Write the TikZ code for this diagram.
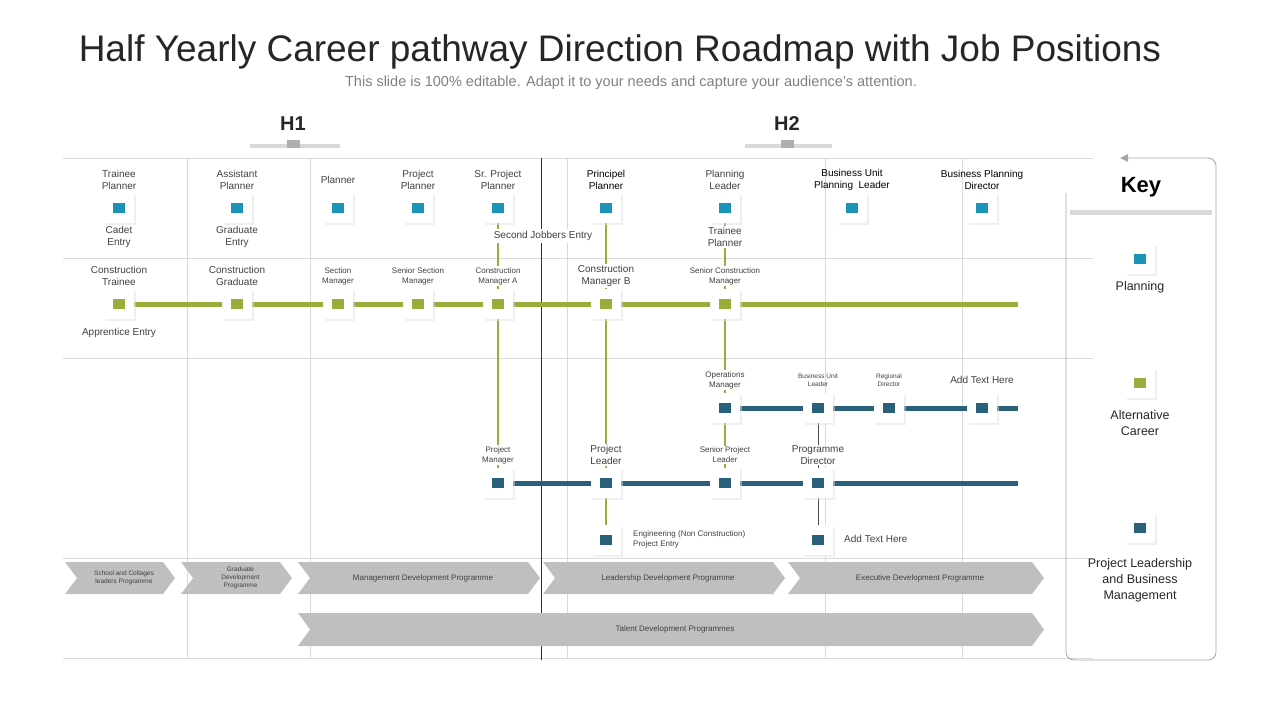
\documentclass[tikz,border=0pt]{standalone}
\usepackage{fontspec}
\setmainfont{Liberation Sans}
\usetikzlibrary{shadows,arrows.meta}
\definecolor{plan}{HTML}{1A93B8}
\definecolor{alt}{HTML}{9AAD3B}
\definecolor{lead}{HTML}{2A6079}
\definecolor{grid}{HTML}{D9D9D9}
\definecolor{chev}{HTML}{BFBFBF}
\definecolor{txt}{HTML}{404040}
\tikzset{
 box/.style={draw=none,fill=white,minimum width=30pt,minimum height=30pt,drop shadow={shadow xshift=1.5pt,shadow yshift=-1.5pt,fill=black!12}},
 lab/.style={align=center,text=txt,font=\fontsize{10}{12}\selectfont,inner sep=0pt},
 smlab/.style={align=center,text=txt,font=\fontsize{8}{10}\selectfont,inner sep=0pt},
 tinylab/.style={align=center,text=txt,font=\fontsize{6.5}{8}\selectfont,inner sep=0pt},
 gl/.style={draw=grid,line width=0.8pt},
}
\newcommand{\pbox}[4]{\node[box] (#1) at (#2,#3) {}; \fill[#4] ([xshift=-6pt,yshift=-5pt]#1.center) rectangle ([xshift=6pt,yshift=5pt]#1.center);}
\newcommand{\chevron}[5]{\fill[chev] (#1,#3) -- (#2-12,#3) -- (#2,{(#3+#4)/2}) -- (#2-12,#4) -- (#1,#4) -- (#1+12,{(#3+#4)/2}) -- cycle;
 \node[tinylab,text=txt] at ({(#1+#2)/2+4},{(#3+#4)/2}) {#5};}
\begin{document}
\begin{tikzpicture}[x=1pt,y=-1pt]
\useasboundingbox (0,0) rectangle (1280,720);
% title
\node[text=black!85,font=\fontsize{37}{40}\selectfont] (title) at (620,52) {Half Yearly Career pathway Direction Roadmap with Job Positions};
\node[text=black!50,font=\fontsize{14.5}{16}\selectfont] (sub) at (631,83) {This slide is 100\% editable. Adapt it to your needs and capture your audience's attention.};
\node[font=\bfseries\fontsize{20}{22}\selectfont,text=black!85] (h1) at (293,124) {H1};
\node[font=\bfseries\fontsize{20}{22}\selectfont,text=black!85] (h2) at (787,124) {H2};
\draw[grid,line width=4pt] (250,146) -- (340,146);
\fill[grid!80!black] (287,140) rectangle (300,148);
\draw[grid,line width=4pt] (745,146) -- (832,146);
\fill[grid!80!black] (781,140) rectangle (794,148);
% grid
\foreach \y in {158,258,358,558,658} \draw[gl] (63,\y) -- (1093,\y);
\foreach \x in {187,310,567,825,962} \draw[gl] (\x,158) -- (\x,658);
\draw[black!80,line width=0.8pt] (541,158) -- (541,660);
% key frame
\draw[draw=black!35,line width=0.8pt] (1066,193) -- (1066,652) to[out=-90,in=180] (1074,660) -- (1208,660) to[out=0,in=-90] (1216,652) -- (1216,166) to[out=90,in=0] (1208,158) -- (1124,158);
\fill[black!35] (1120,158) -- (1128,154) -- (1128,162) -- cycle;
\node[font=\bfseries\fontsize{22}{24}\selectfont] (key) at (1141,187) {Key};
\draw[grid,line width=5pt] (1070,212) -- (1212,212);
% connectors lines
\draw[alt,line width=5pt] (119,304) -- (1018,304);
\draw[lead,line width=5pt] (725,408) -- (1018,408);
\draw[lead,line width=5pt] (498,483) -- (1018,483);
\draw[alt,line width=1.5pt] (498,208) -- (498,483);
\draw[alt,line width=1.5pt] (606,208) -- (606,540);
\draw[alt,line width=1.5pt] (725,208) -- (725,483);
\draw[black!70,line width=0.8pt] (818,408) -- (818,540);
% row1
\foreach \n/\x in {a1/119,a2/237,a3/338,a4/418,a5/498,a6/606,a7/725,a8/852,a9/982} {\pbox{\n}{\x}{208}{plan}}
\node[lab] at (119,180) {Trainee\\Planner};
\node[lab] at (237,180) {Assistant\\Planner};
\node[lab] at (338,180) {Planner};
\node[lab] at (418,180) {Project\\Planner};
\node[lab] at (498,180) {Sr. Project\\Planner};
\node[lab,text=black] at (606,180) {Principel\\Planner};
\node[lab] at (725,180) {Planning\\Leader};
\node[lab,text=black] at (852,180) {Business Unit\\Planning\ \ Leader};
\node[lab,text=black] at (982,180) {Business Planning\\Director};
\node[lab] at (119,237) {Cadet\\Entry};
\node[lab] at (237,237) {Graduate\\Entry};
\node[lab,fill=white,inner sep=2pt] at (543,236) {Second Jobbers Entry};
\node[lab,fill=white,inner sep=1pt] at (725,237) {Trainee\\Planner};
% row2
\foreach \n/\x in {b1/119,b2/237,b3/338,b4/418,b5/498,b6/606,b7/725} {\pbox{\n}{\x}{304}{alt}}
\node[lab] at (119,276) {Construction\\Trainee};
\node[lab] at (237,276) {Construction\\Graduate};
\node[smlab] at (338,276) {Section\\Manager};
\node[smlab] at (418,276) {Senior Section\\Manager};
\node[smlab,fill=white,inner sep=1pt] at (498,276) {Construction\\Manager  A};
\node[lab,fill=white,inner sep=1pt] at (606,276) {Construction\\Manager B};
\node[smlab,fill=white,inner sep=1pt] at (725,276) {Senior Construction\\Manager};
\node[lab] at (119,333) {Apprentice Entry};
% row3
\foreach \n/\x in {c1/725,c2/818,c3/889,c4/982} {\pbox{\n}{\x}{408}{lead}}
\node[smlab,fill=white,inner sep=1pt] at (725,380) {Operations\\Manager};
\node[tinylab] at (818,380) {Business Unit\\Leader};
\node[tinylab] at (889,380) {Regional\\Director};
\node[lab] at (982,380) {Add Text Here};
% row4
\foreach \n/\x in {d1/498,d2/606,d3/725,d4/818} {\pbox{\n}{\x}{483}{lead}}
\node[smlab,fill=white,inner sep=1pt] at (498,455) {Project\\Manager};
\node[lab,fill=white,inner sep=1pt] at (606,455) {Project\\Leader};
\node[smlab,fill=white,inner sep=1pt] at (725,455) {Senior Project\\Leader};
\node[lab,fill=white,inner sep=1pt] at (818,455) {Programme\\Director};
% row5
\pbox{e1}{606}{540}{lead}
\pbox{e2}{818}{540}{lead}
\node[smlab,align=left,anchor=west] at (633,539) {Engineering  (Non Construction)\\Project Entry};
\node[lab,anchor=west] at (844,539) {Add Text Here};
% chevrons
\chevron{65}{175}{562}{594}{School  and Collages\\leaders Programme}
\chevron{181}{292}{562}{594}{Graduate\\Development\\Programme}
\chevron{298}{540}{562}{594}{\fontsize{8}{10}\selectfont Management  Development Programme}
\chevron{543}{785}{562}{594}{\fontsize{8}{10}\selectfont Leadership  Development Programme}
\chevron{788}{1044}{562}{594}{\fontsize{8}{10}\selectfont Executive Development Programme}
\chevron{298}{1044}{613}{646}{\fontsize{8}{10}\selectfont Talent Development Programmes}
% key items
\pbox{k1}{1140}{259}{plan}
\pbox{k2}{1140}{383}{alt}
\pbox{k3}{1140}{528}{lead}
\node[lab,font=\fontsize{12.5}{16}\selectfont,text=black!85] at (1140,287) {Planning};
\node[lab,font=\fontsize{12.5}{16}\selectfont,text=black!85] at (1140,423) {Alternative\\Career};
\node[lab,font=\fontsize{12.5}{16}\selectfont,text=black!85] at (1140,580) {Project Leadership\\and Business\\Management};
\end{tikzpicture}
\end{document}
